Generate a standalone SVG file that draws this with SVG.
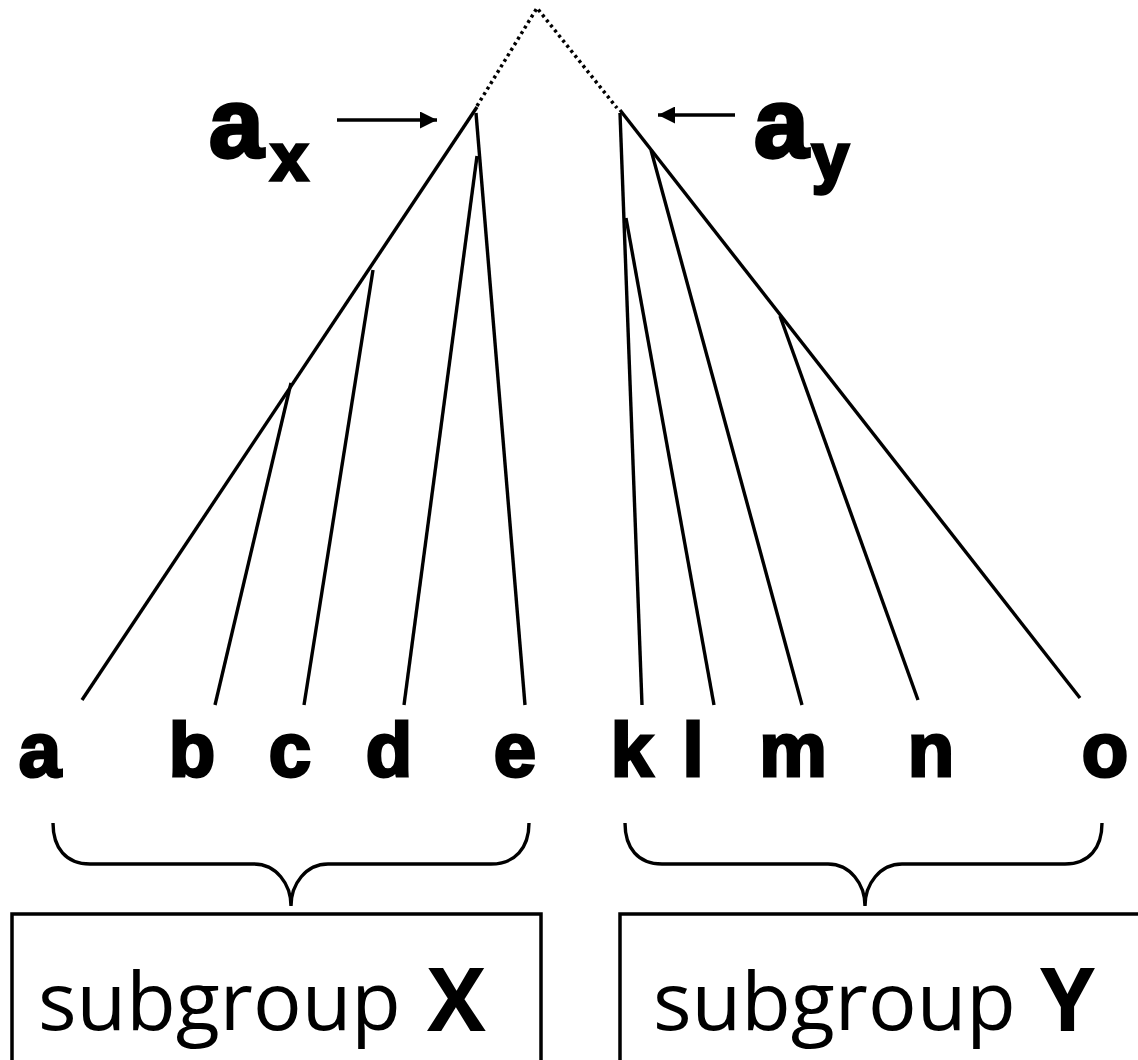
<svg xmlns="http://www.w3.org/2000/svg" width="1138" height="1060" viewBox="0 0 1138 1060">
<style>
.ln{stroke:#000;stroke-width:3.4;fill:none;stroke-linecap:butt}
.dot{stroke:#000;stroke-width:3.5;fill:none;stroke-dasharray:3 3.5}
.leaf{font-family:"Liberation Sans",Arial,sans-serif;font-weight:bold;font-size:76px;fill:#000;stroke:#000;stroke-width:3;text-anchor:middle}
.big{font-family:"Liberation Sans",Arial,sans-serif;font-weight:bold;fill:#000;stroke:#000;stroke-width:3.5}
.box{stroke:#000;stroke-width:3.5;fill:#fff}
.lbl{font-family:"Open Sans","Noto Sans","Liberation Sans",sans-serif;font-size:81px;fill:#000}
.bx{font-family:"Open Sans","Noto Sans","Liberation Sans",sans-serif;font-size:88px;font-weight:bold;fill:#000}
</style>
<defs>
<marker id="ah" viewBox="0 0 10 10" refX="10" refY="5" markerWidth="5" markerHeight="5" orient="auto" markerUnits="strokeWidth">
<path d="M0,0 L10,5 L0,10 z" fill="#000"/>
</marker>
</defs>
<g id="connectors">
<path class="dot" d="M477,106 L537,8 L617,108"/>
<path class="ln" d="M477,107 L82,700"/>
<path class="ln" d="M476,113 L525,705"/>
<path class="ln" d="M477,156 L404,705"/>
<path class="ln" d="M373,270 L304,705"/>
<path class="ln" d="M291,383 L215,705"/>
<path class="ln" d="M620,110 L1080,698"/>
<path class="ln" d="M620,113 L642,705"/>
<path class="ln" d="M626,218 L714,705"/>
<path class="ln" d="M651,150 L802,705"/>
<path class="ln" d="M780,316 L918,700"/>
<path class="ln" d="M337,120 L437,120" stroke-width="3" marker-end="url(#ah)"/>
<path class="ln" d="M735,115 L658,115" stroke-width="3" marker-end="url(#ah)"/>
<path class="ln" d="M53,823 C53,848 66,864 90,864 L254,864 C276,864 291,884 291,906 C291,884 306,864 328,864 L491,864 C515,864 529,848 529,823"/>
<path class="ln" d="M625,823 C625,848 638,864 662,864 L828,864 C850,864 865,884 865,906 C865,884 880,864 902,864 L1065,864 C1089,864 1102,848 1102,823"/>
</g>
<g id="label-ax">
<text class="big" x="209" y="157" font-size="98">a</text>
<text class="big" x="271" y="180" font-size="66">x</text>
</g>
<g id="label-ay">
<text class="big" x="754" y="157" font-size="98">a</text>
<text class="big" x="812" y="180" font-size="66">y</text>
</g>
<g id="leaf-a"><text class="leaf" x="40" y="776">a</text></g>
<g id="leaf-b"><text class="leaf" x="192" y="776">b</text></g>
<g id="leaf-c"><text class="leaf" x="290" y="776">c</text></g>
<g id="leaf-d"><text class="leaf" x="389" y="776">d</text></g>
<g id="leaf-e"><text class="leaf" x="515" y="776">e</text></g>
<g id="leaf-k"><text class="leaf" x="632" y="776">k</text></g>
<g id="leaf-l"><text class="leaf" x="693" y="776">l</text></g>
<g id="leaf-m"><text class="leaf" x="793" y="776">m</text></g>
<g id="leaf-n"><text class="leaf" x="931" y="776">n</text></g>
<g id="leaf-o"><text class="leaf" x="1105" y="776">o</text></g>
<g id="box-x">
<rect class="box" x="12" y="914" width="529" height="160"/>
<text class="lbl" x="38" y="1030">subgroup</text>
<text class="bx" x="427" y="1031">X</text>
</g>
<g id="box-y">
<rect class="box" x="620" y="914" width="540" height="160"/>
<text class="lbl" x="653" y="1030">subgroup</text>
<text class="bx" x="1040" y="1031">Y</text>
</g>
</svg>
